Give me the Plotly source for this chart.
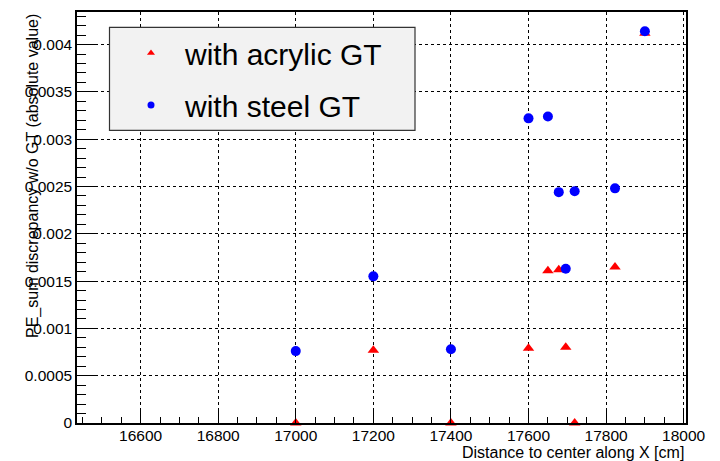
import plotly.graph_objects as go

# Data
x_vals = [17000, 17200, 17400, 17600, 17650, 17678, 17696, 17719, 17823, 17900]
acrylic = [0.0, 0.00077, 0.0, 0.00079, 0.00161, 0.00162, 0.00080, 0.0, 0.00165, 0.00412]
steel = [0.00076, 0.00155, 0.00078, 0.00322, 0.00324, 0.00244, 0.00163, 0.00245, 0.00248, 0.00414]

x_ticks = [16600, 16800, 17000, 17200, 17400, 17600, 17800, 18000]
x_ticktext = ["16600", "16800", "17000", "17200", "17400", "17600", "17800", "18000"]
y_ticks = [0, 0.0005, 0.001, 0.0015, 0.002, 0.0025, 0.003, 0.0035, 0.004]
y_ticktext = ["0", "0.0005", "0.001", "0.0015", "0.002", "0.0025", "0.003", "0.0035", "0.004"]

series_names = ["with acrylic GT", "with steel GT"]

FONT = "Liberation Sans, Arial, Helvetica, sans-serif"

fig = go.Figure()
fig.add_trace(go.Scatter(
    x=x_vals, y=acrylic, mode="markers", name=series_names[0], showlegend=False,
    marker=dict(symbol="triangle-up", size=10, color="#ff0000", line=dict(width=0)),
    cliponaxis=False,
))
fig.add_trace(go.Scatter(
    x=x_vals, y=steel, mode="markers", name=series_names[1], showlegend=False,
    marker=dict(symbol="circle", size=10, color="#0000ff", line=dict(width=0)),
    cliponaxis=False,
))
# legend-only entries (smaller symbols, as in the reference legend)
fig.add_trace(go.Scatter(
    x=[None], y=[None], mode="markers", name=series_names[0], legendgroup="a",
    marker=dict(symbol="triangle-up", size=7, color="#ff0000", line=dict(width=0)),
))
fig.add_trace(go.Scatter(
    x=[None], y=[None], mode="markers", name=series_names[1], legendgroup="b",
    marker=dict(symbol="circle", size=7, color="#0000ff", line=dict(width=0)),
))

L, R, T, B = 77, 34, 10, 38
W, H = 720, 461
pw, ph = W - L - R, H - T - B

def px_x(px):
    return (px - L) / pw

def px_y(py):
    return (H - B - py) / ph

axis_common = dict(
    showline=True, linecolor="black", linewidth=1.5, mirror=True,
    ticks="inside", tickcolor="black", tickwidth=1,
    showgrid=True, gridcolor="black", gridwidth=1, griddash="dot",
    zeroline=False,
    tickfont=dict(family=FONT, size=15.5, color="black"),
)

fig.update_xaxes(
    range=[16436, 18006], tickvals=x_ticks, ticktext=x_ticktext,
    ticklen=12, ticklabelstandoff=-2,
    minor=dict(dtick=50, tick0=16400, ticks="inside", ticklen=6, tickcolor="black", showgrid=False),
    **axis_common,
)
fig.update_yaxes(
    range=[0, 0.004344], tickvals=y_ticks, ticktext=y_ticktext,
    ticklen=19,
    minor=dict(dtick=0.0001, tick0=0, ticks="inside", ticklen=9, tickcolor="black", showgrid=False),
    **axis_common,
)

# legend box
fig.add_shape(
    type="rect", xref="paper", yref="paper",
    x0=px_x(109.5), x1=px_x(415), y0=px_y(129), y1=px_y(25.5),
    fillcolor="#f2f2f2", line=dict(color="#333333", width=1.2), layer="above",
)

fig.update_layout(
    width=W, height=H,
    margin=dict(l=L, r=R, t=T, b=B),
    paper_bgcolor="white", plot_bgcolor="white",
    font=dict(family=FONT, color="black"),
    showlegend=True,
    legend=dict(
        x=px_x(117), y=px_y(25), xanchor="left", yanchor="top",
        bgcolor="rgba(0,0,0,0)", borderwidth=0,
        font=dict(family=FONT, size=30, color="black"),
        itemwidth=58, tracegroupgap=10,
    ),
    annotations=[
        dict(text="Distance to center along X [cm]", xref="paper", yref="paper",
             x=1, y=px_y(453), xanchor="right", yanchor="middle", showarrow=False,
             font=dict(family=FONT, size=16, color="black")),
        dict(text="PE_sum discrepancy w/o GT (absolute value)", xref="paper", yref="paper",
             x=px_x(33), y=1, xanchor="center", yanchor="top", textangle=-90, showarrow=False,
             font=dict(family=FONT, size=16, color="black")),
    ],
)

fig.write_html("out.html")
